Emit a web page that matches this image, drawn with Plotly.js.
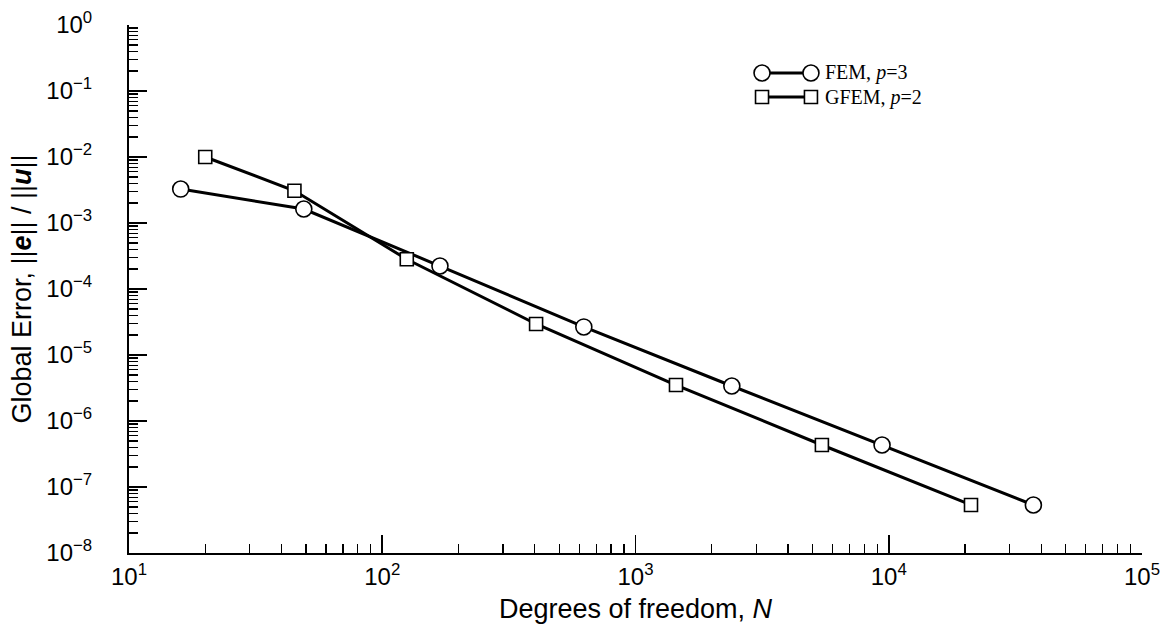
<!DOCTYPE html>
<html>
<head>
<meta charset="utf-8">
<script src="https://cdn.plot.ly/plotly-3.0.1.min.js"></script>
<style>html,body{margin:0;padding:0;background:#fff;}#chart{width:1162px;height:632px;}</style>
</head>
<body>
<div id="chart"></div>
<script>
// Data
const femDof = [16, 49, 169, 625, 2401, 9409, 37249];
const femErr = [3.27e-3, 1.63e-3, 2.23e-4, 2.66e-5, 3.39e-6, 4.33e-7, 5.34e-8];
const gfemDof = [20, 45, 125, 405, 1445, 5445, 21125];
const gfemErr = [1.0e-2, 3.08e-3, 2.82e-4, 2.95e-5, 3.51e-6, 4.33e-7, 5.34e-8];
const seriesNames = ['FEM, <i>p</i>=3', 'GFEM, <i>p</i>=2'];
const xTickVals = [1e1, 1e2, 1e3, 1e4, 1e5];
const xTickText = ['10<sup>1</sup>', '10<sup>2</sup>', '10<sup>3</sup>', '10<sup>4</sup>', '10<sup>5</sup>'];
const yTickVals = [1e0, 1e-1, 1e-2, 1e-3, 1e-4, 1e-5, 1e-6, 1e-7, 1e-8];
const yTickText = ['10<sup>0</sup>', '10<sup>−1</sup>', '10<sup>−2</sup>', '10<sup>−3</sup>', '10<sup>−4</sup>',
                   '10<sup>−5</sup>', '10<sup>−6</sup>', '10<sup>−7</sup>', '10<sup>−8</sup>'];

const traces = [
  {
    x: femDof, y: femErr, name: seriesNames[0], type: 'scatter', mode: 'lines+markers',
    line: {color: '#000', width: 3},
    marker: {symbol: 'circle', size: 16, color: '#fff', line: {color: '#000', width: 1.6}}
  },
  {
    x: gfemDof, y: gfemErr, name: seriesNames[1], type: 'scatter', mode: 'lines+markers',
    line: {color: '#000', width: 3},
    marker: {symbol: 'square', size: 13, color: '#fff', line: {color: '#000', width: 1.6}}
  }
];

// Custom legend (markers at both ends of the sample line, as in the reference)
const legX0 = 0.6249, legX1 = 0.6732, legTextX = 0.6852;
const legRowsY = [0.9091, 0.8636];
const legSymbols = ['circle', 'rect'];
const legHalf = [8, 6.5];
const shapes = [];
const annotations = [];
legRowsY.forEach(function (yy, i) {
  shapes.push({type: 'line', xref: 'paper', yref: 'paper', x0: legX0, x1: legX1, y0: yy, y1: yy,
               line: {color: '#000', width: 3}});
  [legX0, legX1].forEach(function (xa) {
    shapes.push({type: legSymbols[i], xref: 'paper', yref: 'paper',
                 xsizemode: 'pixel', ysizemode: 'pixel', xanchor: xa, yanchor: yy,
                 x0: -legHalf[i], x1: legHalf[i], y0: -legHalf[i], y1: legHalf[i],
                 fillcolor: '#fff', line: {color: '#000', width: 1.6}});
  });
  annotations.push({xref: 'paper', yref: 'paper', x: legTextX, y: yy, xanchor: 'left', yanchor: 'middle',
                    showarrow: false, text: seriesNames[i],
                    font: {family: 'Liberation Serif, Times New Roman, serif', size: 20, color: '#000'}});
});

const axisCommon = {
  type: 'log',
  showgrid: false, zeroline: false,
  showline: true, linecolor: '#000', linewidth: 2, mirror: false,
  ticks: 'inside', ticklen: 18, tickwidth: 1.6, tickcolor: '#000',
  tickfont: {family: 'Liberation Sans, Arial, sans-serif', size: 24, color: '#000'},
  minor: {ticks: 'inside', ticklen: 9, tickwidth: 1.3, tickcolor: '#000', dtick: 'D1', showgrid: false}
};

const layout = {
  width: 1162, height: 632,
  margin: {l: 129, r: 20, t: 25, b: 79},
  paper_bgcolor: '#fff', plot_bgcolor: '#fff',
  showlegend: false,
  shapes: shapes,
  annotations: annotations,
  xaxis: Object.assign({}, axisCommon, {
    range: [1, 5], tickvals: xTickVals, ticktext: xTickText, ticklabelstandoff: 1,
    title: {text: 'Degrees of freedom, <i>N</i>', standoff: 10,
            font: {family: 'Liberation Sans, Arial, sans-serif', size: 27, color: '#000'}}
  }),
  yaxis: Object.assign({}, axisCommon, {
    range: [-8, 0], tickvals: yTickVals, ticktext: yTickText, ticklabelstandoff: 30,
    title: {text: 'Global Error, ||<b><i>e</i></b>|| / ||<b><i>u</i></b>||\u00A0\u00A0\u00A0', standoff: 7,
            font: {family: 'Liberation Sans, Arial, sans-serif', size: 27, color: '#000'}}
  })
};

Plotly.newPlot('chart', traces, layout, {displayModeBar: false, staticPlot: true});
</script>
</body>
</html>
